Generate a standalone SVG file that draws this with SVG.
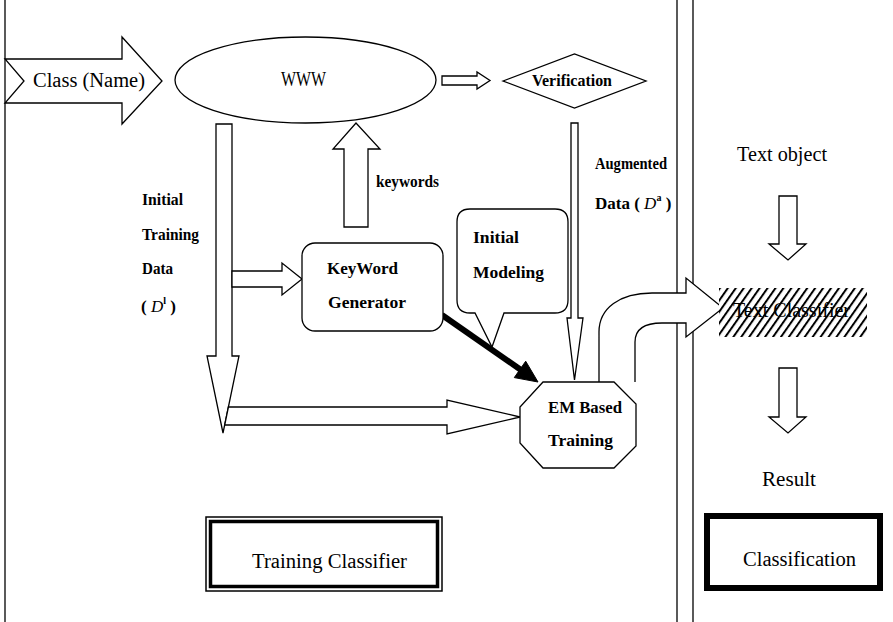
<svg xmlns="http://www.w3.org/2000/svg" width="893" height="622" viewBox="0 0 893 622">
  <style>
    .ln { fill: #fff; stroke: #000; stroke-width: 1.3; stroke-linejoin: miter; }
    .frame { fill: none; stroke: #000; stroke-width: 1.3; }
    .t { font-size: 20px; fill: #000; }
    .b { font-size: 17px; font-weight: bold; fill: #000; }
    .i { font-style: italic; font-weight: normal; }
  </style>
  <defs>
    <pattern id="hatch" width="6.5" height="6.5" patternUnits="userSpaceOnUse" patternTransform="rotate(35)">
      <rect width="6.5" height="6.5" fill="#fff"/>
      <line x1="1" y1="0" x2="1" y2="6.5" stroke="#000" stroke-width="2"/>
    </pattern>
  </defs>
  <rect width="893" height="622" fill="#fff"/>

  <!-- panel borders -->
  <g id="panels">
    <line class="frame" x1="5" y1="0" x2="5" y2="622"/>
    <line class="frame" x1="677" y1="0" x2="677" y2="622"/>
    <line class="frame" x1="693" y1="0" x2="693" y2="622"/>
  </g>

  <!-- connectors -->
  <g id="connectors">
    <!-- Class (Name) input arrow -->
    <polygon class="ln" points="5,59 122,59 122,37 162,81 122,124 122,103 5,103 24,81"/>
    <!-- WWW to Verification -->
    <polygon class="ln" points="442,76 477,76 477,72 490,80.5 477,89 477,85 442,85"/>
    <!-- keywords up to WWW -->
    <polygon class="ln" points="344,227 344,149 333,149 356,123 380,149 368,149 368,227"/>
    <!-- Initial Training Data: long down arrow -->
    <polygon class="ln" points="216,124 232,124 232,356 239,356 223,433 207,356 216,356"/>
    <!-- to KeyWord Generator -->
    <polygon class="ln" points="232,271 282,271 282,263 302,279 282,295 282,287 232,287"/>
    <!-- to EM Based Training -->
    <polygon class="ln" points="228.4,407 447,407 447,400 520,417 447,434 447,425 224.7,425"/>
    <!-- Augmented Data down arrow -->
    <polygon class="ln" points="571,123 578,123 578,318 583,318 574.5,380 567,318 571,318"/>
    <!-- KeyWord Generator to EM (bold) -->
    <line x1="442" y1="315" x2="521" y2="370" stroke="#000" stroke-width="6"/>
    <polygon points="538,382 514.3,377.6 525.7,361.2" fill="#000" stroke="#000" stroke-width="1"/>
    <!-- EM to Text Classifier (curved block arrow) -->
    <path class="ln" d="M599,382 L599,332 C599,308 620,293 652,293 L686,293 L686,278 L723,308 L686,337 L686,323 L662,323 C644,323 635,330 635,342 L635,382"/>
    <!-- right panel arrows -->
    <polygon class="ln" points="779,196 797,196 797,244 806,244 788,260 769,244 779,244"/>
    <polygon class="ln" points="779,368 797,368 797,417 806,417 788,433 769,417 779,417"/>
  </g>

  <g id="labels" font-family="Liberation Serif, DejaVu Serif, serif">
    <g id="class-name">
      <text class="t" x="33" y="87" textLength="112" lengthAdjust="spacingAndGlyphs">Class (Name)</text>
    </g>

    <g id="www">
      <ellipse cx="305.5" cy="80" rx="130.5" ry="43" fill="none" stroke="#000" stroke-width="1.3"/>
      <text class="t" x="281" y="86" textLength="45" lengthAdjust="spacingAndGlyphs">WWW</text>
    </g>

    <g id="verification">
      <polygon class="ln" points="503,81 574.5,54 646,81 574.5,108"/>
      <text class="b" x="532" y="86" textLength="80" lengthAdjust="spacingAndGlyphs">Verification</text>
    </g>

    <g id="keywords-label">
      <text class="b" x="376" y="187" textLength="63" lengthAdjust="spacingAndGlyphs">keywords</text>
    </g>

    <g id="initial-data-label">
      <text class="b" x="142" y="205" textLength="41" lengthAdjust="spacingAndGlyphs">Initial</text>
      <text class="b" x="142" y="240" textLength="57" lengthAdjust="spacingAndGlyphs">Training</text>
      <text class="b" x="142" y="274" textLength="31" lengthAdjust="spacingAndGlyphs">Data</text>
      <text class="b" x="141" y="312">( <tspan class="i">D</tspan><tspan font-size="10" dy="-8">l</tspan><tspan dy="8"> )</tspan></text>
    </g>

    <g id="augmented-label">
      <text class="b" x="595" y="169" textLength="72" lengthAdjust="spacingAndGlyphs">Augmented</text>
      <text class="b" x="595" y="209">Data ( <tspan class="i">D</tspan><tspan font-size="10" dy="-8">a</tspan><tspan dy="8"> )</tspan></text>
    </g>

    <g id="keyword-generator">
      <rect class="ln" x="302" y="243" width="141" height="88" rx="13"/>
      <text class="b" x="327" y="274" textLength="71" lengthAdjust="spacingAndGlyphs">KeyWord</text>
      <text class="b" x="328" y="308" textLength="78" lengthAdjust="spacingAndGlyphs">Generator</text>
    </g>

    <g id="initial-modeling">
      <path class="ln" d="M470,209 L555,209 Q568,209 568,222 L568,300 Q568,313 555,313 L504,313 L492,347 L475,313 L470,313 Q457,313 457,300 L457,222 Q457,209 470,209 Z"/>
      <text class="b" x="473" y="243" textLength="46" lengthAdjust="spacingAndGlyphs">Initial</text>
      <text class="b" x="473" y="278" textLength="71" lengthAdjust="spacingAndGlyphs">Modeling</text>
    </g>

    <g id="em-training">
      <polygon class="ln" points="543,382 614,382 636,404 636,446 614,468 543,468 520,443 520,407"/>
      <text class="b" x="548" y="413" textLength="74" lengthAdjust="spacingAndGlyphs">EM Based</text>
      <text class="b" x="548" y="446" textLength="65" lengthAdjust="spacingAndGlyphs">Training</text>
    </g>

    <g id="training-classifier">
      <rect x="206" y="517" width="236" height="74" fill="#fff" stroke="#000" stroke-width="1.5"/>
      <rect x="210.5" y="521.5" width="227" height="65" fill="none" stroke="#000" stroke-width="3.5"/>
      <text class="t" x="252" y="568" textLength="155" lengthAdjust="spacingAndGlyphs">Training Classifier</text>
    </g>

    <g id="text-object">
      <text class="t" x="737" y="161" textLength="90" lengthAdjust="spacingAndGlyphs">Text object</text>
    </g>

    <g id="text-classifier">
      <rect x="719" y="288" width="148" height="49" fill="url(#hatch)"/>
      <text class="t" x="733" y="317" textLength="117" lengthAdjust="spacingAndGlyphs">Text Classifier</text>
    </g>

    <g id="result">
      <text class="t" x="762" y="486" textLength="54" lengthAdjust="spacingAndGlyphs">Result</text>
    </g>

    <g id="classification">
      <rect x="707" y="516" width="173" height="72" fill="#fff" stroke="#000" stroke-width="6"/>
      <text class="t" x="743" y="566" textLength="113" lengthAdjust="spacingAndGlyphs">Classification</text>
    </g>
  </g>
</svg>
